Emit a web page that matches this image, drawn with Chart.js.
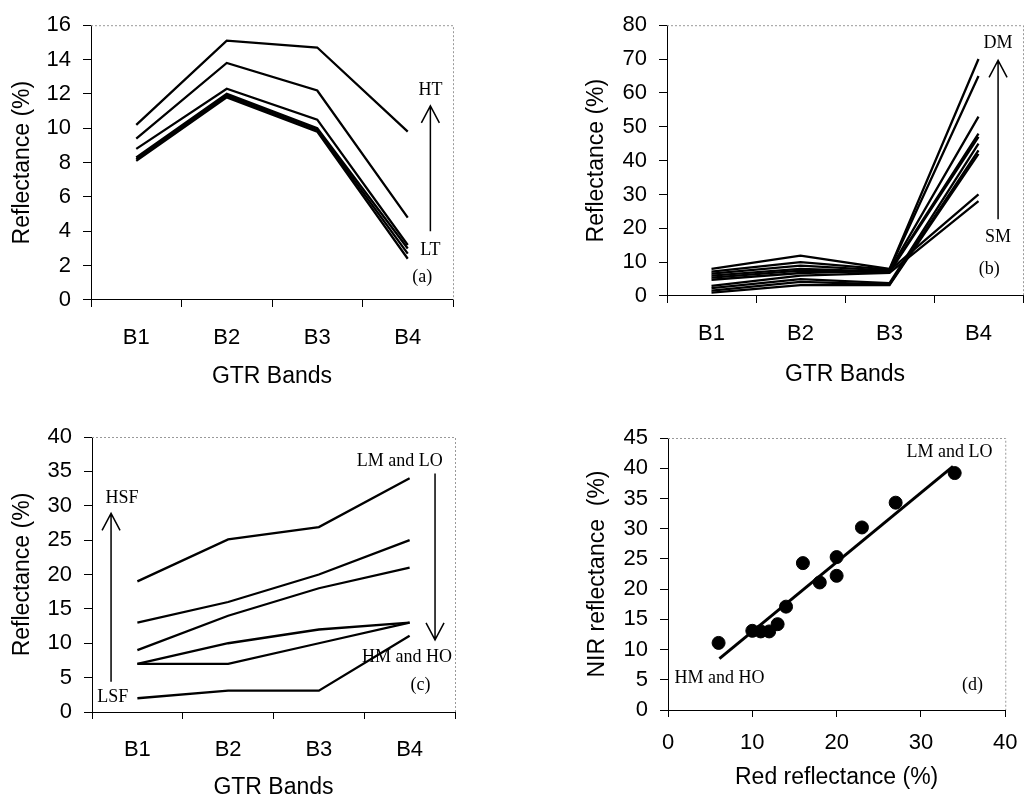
<!DOCTYPE html>
<html>
<head>
<meta charset="utf-8">
<script src="https://cdn.jsdelivr.net/npm/chart.js@4.4.1/dist/chart.umd.min.js"></script>
<style>
  html, body { margin: 0; background: #fff; }
  #wrap { position: relative; width: 1030px; height: 799px; }
  canvas { position: absolute; left: 0; top: 0; }
</style>
</head>
<body>
<div id="wrap">
  <canvas id="chartA" width="1030" height="799"></canvas>
  <canvas id="chartB" width="1030" height="799"></canvas>
  <canvas id="chartC" width="1030" height="799"></canvas>
  <canvas id="chartD" width="1030" height="799"></canvas>
</div>
<script>
const bands = ["B1", "B2", "B3", "B4"];

// (a) low to high temperature
const tempLines = [
  [10.2, 15.1, 14.7, 9.8],
  [9.4, 13.8, 12.2, 4.8],
  [8.8, 12.3, 10.5, 3.2],
  [8.3, 12.0, 10.0, 3.0],
  [8.2, 11.9, 9.9, 2.7],
  [8.1, 11.8, 9.8, 2.4],
];

// (b) soil moisture, saturated to dry
const moistLines = [
  [8.0, 11.9, 8.0, 70],
  [7.2, 10.0, 7.8, 65],
  [6.6, 9.0, 7.5, 53],
  [6.0, 8.0, 7.2, 48],
  [5.4, 7.5, 7.0, 47],
  [4.8, 6.8, 7.5, 30],
  [3.0, 6.0, 6.8, 28],
  [2.3, 5.0, 3.8, 45],
  [1.6, 4.2, 3.4, 43],
  [1.0, 3.2, 3.2, 42],
];

// (c) soil fertility
const fertLines = [
  [19, 25.1, 26.9, 34],
  [13, 16, 20, 25],
  [9, 14, 18, 21],
  [7, 10, 12, 13],
  [7, 7, 10, 13],
  [2, 3.1, 3.1, 11.1],
];

// (d) red vs NIR
const redRefl = [6, 10, 11, 12, 13, 14, 16, 18, 20, 20, 23, 27, 34];
const nirRefl = [11.1, 13.1, 13, 13, 14.2, 17.1, 24.3, 21.1, 25.3, 22.2, 30.2, 34.3, 39.2];
const fitRed = [6.1, 33.8];
const fitNir = [8.5, 40.3];

// annotations: [text, x, y] and arrows: [x, from, to] in data units
const notesA = [["HT", 3.25, 12.2], ["LT", 3.25, 2.87], ["(a)", 3.16, 1.3]];
const arrowsA = [[3.25, 4.0, 11.3]];
const notesB = [["DM", 3.22, 74.8], ["SM", 3.22, 17.3], ["(b)", 3.12, 7.9]];
const arrowsB = [[3.22, 22.7, 69.6]];
const notesC = [["HSF", -0.17, 31.1], ["LSF", -0.27, 2.2], ["LM and LO", 2.89, 36.5],
                ["HM and HO", 2.97, 8.0], ["(c)", 3.12, 3.9]];
const arrowsC = [[-0.29, 4.4, 28.9], [3.28, 34.7, 10.5]];
const notesD = [["LM and LO", 33.4, 42.7], ["HM and HO", 6.1, 5.25], ["(d)", 36.1, 4.1]];

const tickFont = { family: "Liberation Sans", size: 22 };
const titleFont = { family: "Liberation Sans", size: 23, lineHeight: 1 };

function notesPlugin(notes, arrows) {
  return {
    id: "notes",
    afterDraw(chart) {
      const ctx = chart.ctx;
      const xs = chart.scales.x, ys = chart.scales.y;
      const area = chart.chartArea;
      ctx.save();
      // faint frame on top and right
      ctx.strokeStyle = "#999";
      ctx.lineWidth = 1;
      ctx.setLineDash([2, 2]);
      ctx.beginPath();
      ctx.moveTo(area.left, area.top + 0.5);
      ctx.lineTo(area.right + 0.5, area.top + 0.5);
      ctx.lineTo(area.right + 0.5, area.bottom);
      ctx.stroke();
      ctx.setLineDash([]);
      ctx.fillStyle = "#000";
      ctx.font = "18px 'Liberation Serif'";
      ctx.textAlign = "center";
      ctx.textBaseline = "middle";
      notes.forEach(([t, x, y]) => {
        ctx.fillText(t, xs.getPixelForValue(x), ys.getPixelForValue(y));
      });
      ctx.strokeStyle = "#000";
      ctx.lineWidth = 1.5;
      arrows.forEach(([x, from, to]) => {
        const px = xs.getPixelForValue(x);
        const p0 = ys.getPixelForValue(from);
        const p1 = ys.getPixelForValue(to);
        const dir = p0 > p1 ? 1 : -1;
        ctx.beginPath();
        ctx.moveTo(px, p0);
        ctx.lineTo(px, p1);
        ctx.moveTo(px - 9, p1 + dir * 17);
        ctx.lineTo(px, p1);
        ctx.lineTo(px + 9, p1 + dir * 17);
        ctx.stroke();
      });
      ctx.restore();
    },
  };
}

function axisCommon(tickPad, tickLen) {
  return {
    grid: { drawOnChartArea: false, tickLength: tickLen, color: "#000" },
    border: { color: "#000" },
    ticks: { color: "#000", font: tickFont, padding: tickPad },
  };
}

function bandChart(id, lines, yMax, step, box, notes, arrows) {
  const x = axisCommon(18, 7);
  x.type = "category";
  x.offset = true;
  x.grid.offset = true;
  x.title = { display: true, text: "GTR Bands", color: "#000", font: titleFont,
              padding: { top: 0, bottom: box.xt } };
  x.afterFit = (s) => { s.height = box.h; };
  const y = axisCommon(12, 8);
  y.min = 0;
  y.max = yMax;
  y.ticks.stepSize = step;
  y.title = { display: true, text: "Reflectance (%)", color: "#000", font: titleFont,
              padding: { top: box.yt, bottom: 0 } };
  y.afterFit = (s) => { s.width = box.w; };
  return new Chart(document.getElementById(id), {
    type: "line",
    data: {
      labels: bands,
      datasets: lines.map((d) => ({
        data: d, borderColor: "#000", borderWidth: 2.3, pointRadius: 0, tension: 0, fill: false,
      })),
    },
    options: {
      responsive: false,
      animation: false,
      layout: { padding: box.pad },
      plugins: { legend: { display: false }, tooltip: { enabled: false } },
      scales: { x: x, y: y },
    },
    plugins: [notesPlugin(notes, arrows)],
  });
}

bandChart("chartA", tempLines, 16, 2,
  { pad: { left: 0, top: 21, right: 577, bottom: 399 }, w: 91, h: 100, yt: 11, xt: 11.5 },
  notesA, arrowsA);

bandChart("chartB", moistLines, 80, 10,
  { pad: { left: 570, top: 21, right: 7, bottom: 403 }, w: 97, h: 100, yt: 15.5, xt: 9.5 },
  notesB, arrowsB);

bandChart("chartC", fertLines, 40, 5,
  { pad: { left: 0, top: 437, right: 575, bottom: 0 }, w: 92, h: 87, yt: 11.5, xt: 0 },
  notesC, arrowsC);

// (d) scatter with fitted line
const dx = axisCommon(12.5, 7);
dx.type = "linear";
dx.min = 0;
dx.max = 40;
dx.ticks.stepSize = 10;
dx.title = { display: true, text: "Red reflectance (%)", color: "#000", font: titleFont,
             padding: { top: 0, bottom: 9.5 } };
dx.afterFit = (s) => { s.height = 89; };
const dy = axisCommon(12, 8);
dy.min = 0;
dy.max = 45;
dy.ticks.stepSize = 5;
dy.title = { display: true, text: "NIR reflectance  (%)", color: "#000", font: titleFont,
             padding: { top: 16.5, bottom: 0 } };
dy.afterFit = (s) => { s.width = 98; };

new Chart(document.getElementById("chartD"), {
  type: "scatter",
  data: {
    datasets: [
      {
        data: redRefl.map((v, i) => ({ x: v, y: nirRefl[i] })),
        backgroundColor: "#000", borderColor: "#000", pointRadius: 6.5, order: 0,
      },
      {
        type: "line",
        data: fitRed.map((v, i) => ({ x: v, y: fitNir[i] })),
        borderColor: "#000", borderWidth: 3, pointRadius: 0, showLine: true, order: 1,
      },
    ],
  },
  options: {
    responsive: false,
    animation: false,
    layout: { padding: { left: 570, top: 438, right: 12, bottom: 0 } },
    plugins: { legend: { display: false }, tooltip: { enabled: false } },
    scales: { x: dx, y: dy },
  },
  plugins: [notesPlugin(notesD, [])],
});
</script>
</body>
</html>
